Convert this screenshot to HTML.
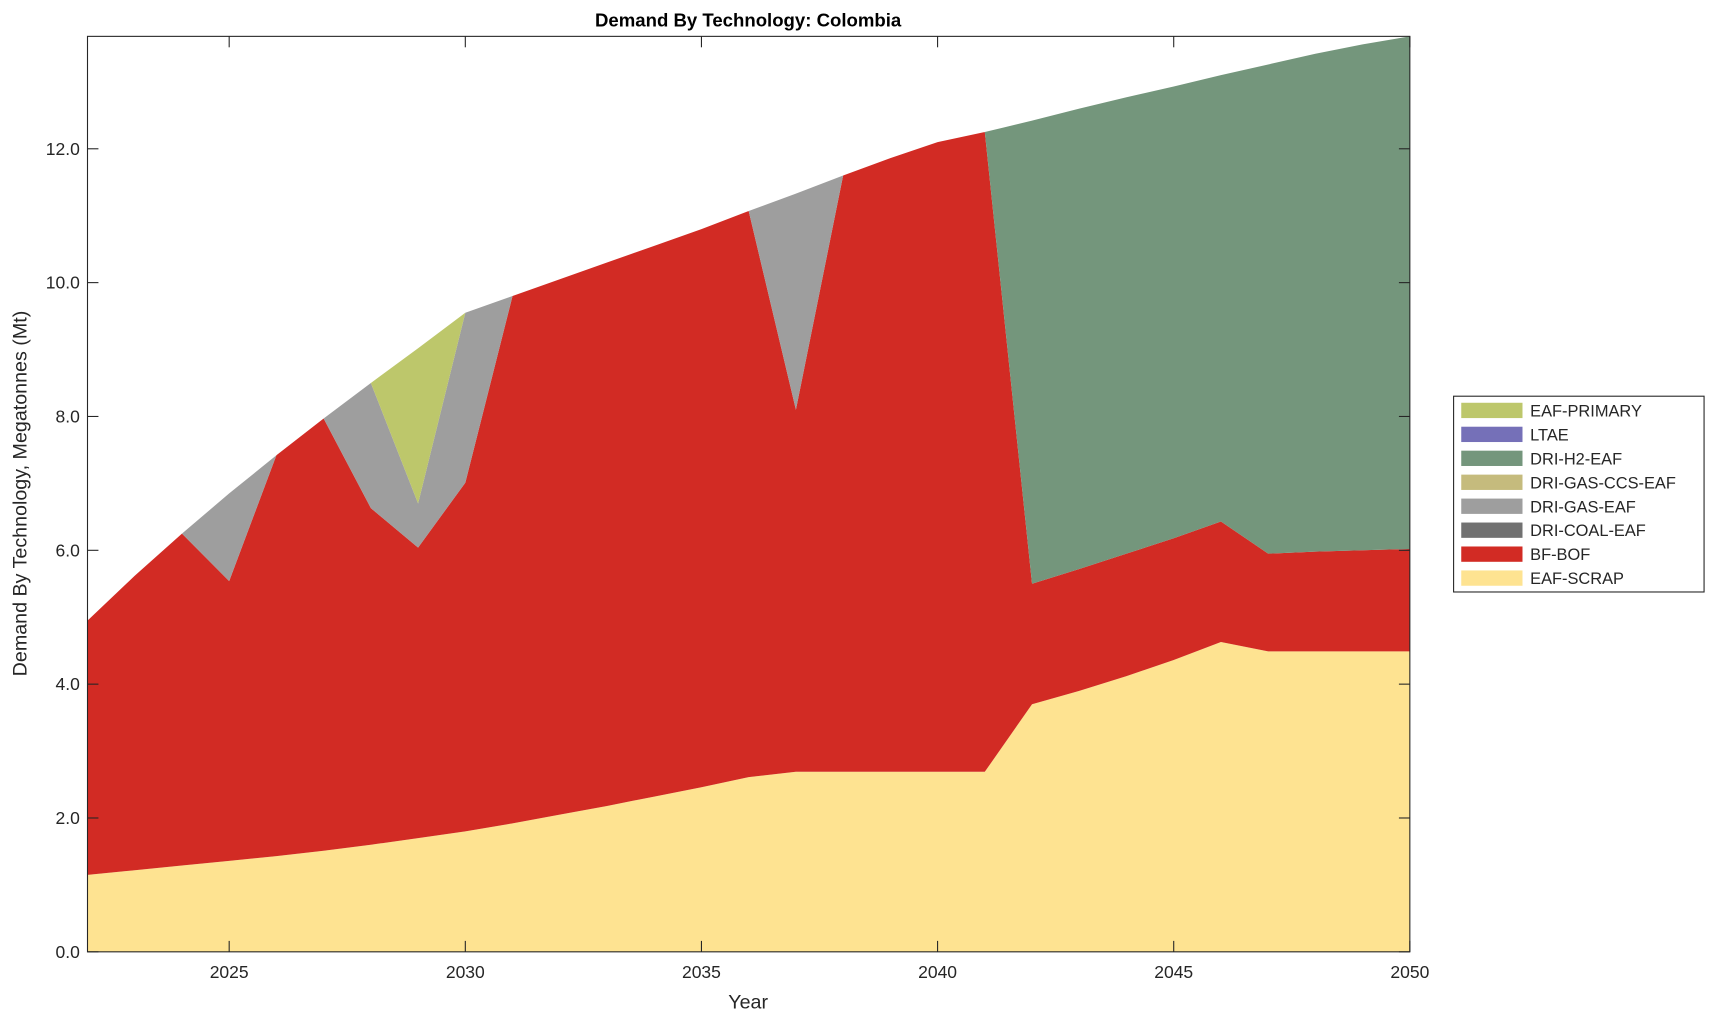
<!DOCTYPE html>
<html><head><meta charset="utf-8"><style>
html,body{margin:0;padding:0;background:#fff;}
svg{display:block;}
text{font-family:"Liberation Sans",Arial,sans-serif;fill:#262626;}
</style></head><body>
<svg id="s" width="1715" height="1021" viewBox="0 0 1568 933" xmlns="http://www.w3.org/2000/svg">
<g id="areas"></g>
<g id="axes"></g>
<text x="684" y="24" text-anchor="middle" font-size="17" font-weight="bold" style="fill:#000">Demand By Technology: Colombia</text>
<text x="684" y="922" text-anchor="middle" font-size="18">Year</text>
<text transform="translate(24,451) rotate(-90)" text-anchor="middle" font-size="18">Demand By Technology, Megatonnes (Mt)</text>
<g id="legend"></g>
</svg>
<script>
var L=80,R=1289,T=33,B=870,YMAX=13.68;
function X(y){return L+(y-2022)*(R-L)/28;}
function Y(v){return B-v*(B-T)/YMAX;}
var yrs=[];for(var y=2022;y<=2050;y++)yrs.push(y);
var scrap=[1.15,1.22,1.29,1.36,1.43,1.51,1.6,1.7,1.8,1.92,2.05,2.18,2.32,2.46,2.61,2.69,2.69,2.69,2.69,2.69,3.7,3.9,4.12,4.36,4.63,4.49,4.49,4.49,4.49];
var bf=[4.95,5.62,6.25,5.54,7.42,7.97,6.63,6.04,7.01,9.8,10.05,10.3,10.55,10.8,11.07,8.1,11.6,11.86,12.1,12.25,5.5,5.72,5.95,6.18,6.43,5.95,5.98,6.0,6.02];
var gas=bf.slice();gas[3]=6.85;gas[6]=8.5;gas[7]=6.7;gas[8]=9.55;gas[15]=11.33;
var prim=gas.slice();prim[7]=9.02;
var h2=prim.slice();var h2v=[12.25,12.42,12.6,12.77,12.93,13.1,13.26,13.42,13.56,13.68];
for(var i=0;i<10;i++)h2[19+i]=h2v[i];
var layers=[[null,scrap,"#fee391"],[scrap,bf,"#d22b24"],[bf,gas,"#9e9e9e"],[gas,prim,"#bdc76b"],[prim,h2,"#74967c"]];
var g=document.getElementById("areas"),h="";
layers.forEach(function(l){
 var pts=[];
 for(var i=0;i<yrs.length;i++)pts.push(X(yrs[i]).toFixed(2)+","+Y(l[1][i]).toFixed(2));
 for(var i=yrs.length-1;i>=0;i--)pts.push(X(yrs[i]).toFixed(2)+","+Y(l[0]?l[0][i]:0).toFixed(2));
 h+='<polygon points="'+pts.join(" ")+'" fill="'+l[2]+'"/>';
});
g.innerHTML=h;
var a="";
a+='<rect x="'+L+'" y="'+T+'" width="'+(R-L)+'" height="'+(B-T)+'" fill="none" stroke="#262626" stroke-width="1"/>';
for(var v=0;v<=12;v+=2){var yy=Y(v);
 a+='<line x1="'+L+'" x2="'+(L+10)+'" y1="'+yy+'" y2="'+yy+'" stroke="#262626"/>';
 a+='<line x1="'+(R-10)+'" x2="'+R+'" y1="'+yy+'" y2="'+yy+'" stroke="#262626"/>';
 a+='<text x="'+(L-7)+'" y="'+(yy+5.5)+'" text-anchor="end" font-size="16">'+v.toFixed(1)+'</text>';}
for(var y=2025;y<=2050;y+=5){var xx=X(y);
 a+='<line x1="'+xx+'" x2="'+xx+'" y1="'+B+'" y2="'+(B-10)+'" stroke="#262626"/>';
 a+='<line x1="'+xx+'" x2="'+xx+'" y1="'+T+'" y2="'+(T+10)+'" stroke="#262626"/>';
 a+='<text x="'+xx+'" y="'+(B+24)+'" text-anchor="middle" font-size="16">'+y+'</text>';}
document.getElementById("axes").innerHTML=a;
var leg=[["EAF-PRIMARY","#bdc76b"],["LTAE","#7570b8"],["DRI-H2-EAF","#74967c"],["DRI-GAS-CCS-EAF","#c5bb7d"],["DRI-GAS-EAF","#9e9e9e"],["DRI-COAL-EAF","#717171"],["BF-BOF","#d22b24"],["EAF-SCRAP","#fee391"]];
var s='<rect x="1329" y="362" width="229" height="179" fill="#fff" stroke="#262626" stroke-width="1"/>';
leg.forEach(function(e,i){var cy=375+i*21.9;
 s+='<rect x="1336" y="'+(cy-7)+'" width="56" height="14" fill="'+e[1]+'"/>';
 s+='<text x="1399" y="'+(cy+5.5)+'" font-size="15">'+e[0]+'</text>';});
document.getElementById("legend").innerHTML=s;
</script>
</body></html>
